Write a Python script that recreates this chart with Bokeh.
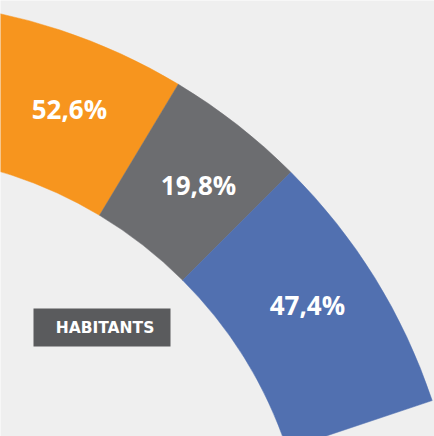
import math
from bokeh.plotting import figure
from bokeh.models import Range1d, ColumnDataSource
from bokeh.embed import file_html
from bokeh.resources import INLINE
from bokeh.core.properties import value

# ---- data ----
categories = ["Catégorie A", "Commun", "Catégorie B"]
shares = [52.6, 19.8, 47.4]
labels = ["52,6%", "19,8%", "47,4%"]
title = "HABITANTS"

# ---- style / layout ----
colors = ["#F7951E", "#6C6D70", "#5170B0"]
bg = "#EFEFEF"
W, H = 434, 436
cx, cy = -124, H - 586
r_in, r_out = 433, 586
seg_bounds_deg = [110, 59, 45, 18.5]   # arc boundaries (layout)
label_deg = [68, 51.3, 33.2]
label_r = 515

starts = [math.radians(b) for b in seg_bounds_deg[1:]]
ends = [math.radians(b) for b in seg_bounds_deg[:-1]]

src = ColumnDataSource(dict(
    cat=categories, share=shares, label=labels, color=colors,
    start=starts, end=ends,
    lx=[cx + label_r * math.cos(math.radians(a)) for a in label_deg],
    ly=[cy + label_r * math.sin(math.radians(a)) for a in label_deg],
))

p = figure(width=W, height=H, x_range=Range1d(0, W), y_range=Range1d(0, H),
           output_backend="svg", toolbar_location=None,
           x_axis_location=None, y_axis_location=None, min_border=0)
p.grid.visible = False
p.outline_line_color = None
p.background_fill_color = bg
p.border_fill_color = bg

p.annular_wedge(x=cx, y=cy, inner_radius=r_in, outer_radius=r_out,
                start_angle="start", end_angle="end", color="color",
                line_color="color", line_width=0.5, source=src)

p.text(x="lx", y="ly", text="label", source=src,
       text_color="white", text_font=value("Open Sans"), text_font_style="bold",
       text_font_size="26px", text_align="center", text_baseline="middle")

p.rect(x=[101.5], y=[H - 327], width=137, height=38,
       fill_color="#5A5B5D", line_color=None)
p.text(x=[104.5], y=[H - 327.5], text=[title], text_color="white",
       text_font=value("DejaVu Sans"), text_font_style="bold",
       text_font_size="15.5px", text_align="center", text_baseline="middle")

open("out.html", "w").write(file_html(p, INLINE))
